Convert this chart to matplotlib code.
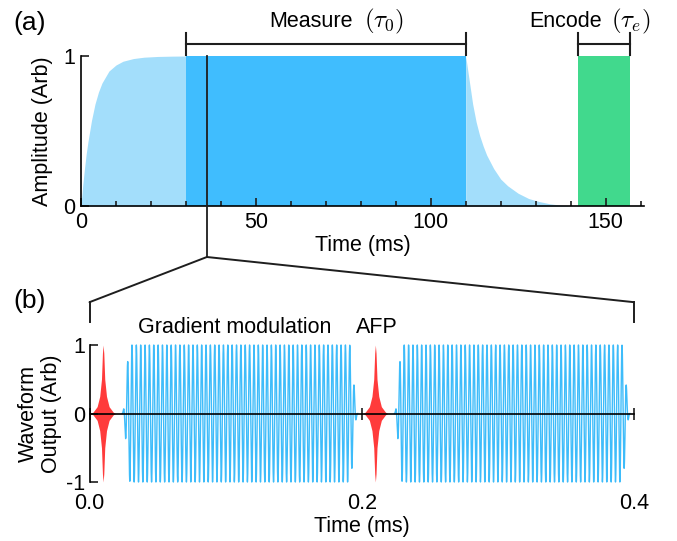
import numpy as num
import matplotlib
matplotlib.use('Agg')
import matplotlib.pyplot as plt
from matplotlib.ticker import MultipleLocator
from matplotlib.patches import ConnectionPatch

# ---- panel (a): sequence amplitude envelope
rise_t = [0, 0.5, 1, 1.5, 2, 3, 4, 5, 6, 7, 8, 10, 12, 15, 18, 22, 26, 30]
rise_a = [0, 0.14, 0.25, 0.35, 0.43, 0.57, 0.68, 0.76, 0.82, 0.86, 0.90,
          0.94, 0.965, 0.983, 0.992, 0.997, 0.999, 1.0]
decay_t = [110, 111, 112, 113, 114, 115, 116, 118, 120, 122, 125, 128,
           131, 134, 137, 140]
decay_a = [1.0, 0.84, 0.68, 0.56, 0.47, 0.40, 0.34, 0.25, 0.18, 0.135,
           0.085, 0.05, 0.03, 0.015, 0.006, 0.0]
measure_span = [30, 110]
encode_span = [142, 157]
zoom_time = 36
top_xticks = [0, 50, 100, 150]

# ---- panel (b): waveform output
afp_centers = [0.01, 0.21]
afp_offsets = [0, 0.0005, 0.0012, 0.0025, 0.0044, 0.0074, 0.009]
afp_env = [1.0, 0.88, 0.5, 0.25, 0.1, 0.02, 0.0]
grad_segments = [(0.024, 0.197), (0.224, 0.397)]
grad_period = 0.0032
grad_ramp = 0.006
bot_xticks = [0.0, 0.2, 0.4]
bot_xlabels = ['0.0', '0.2', '0.4']
bot_yticks = [-1, 0, 1]

light_blue = '#A3DEFB'
dark_blue = '#40BDFE'
green = '#41D98D'
red = '#FF3B3B'
wave_blue = '#3EBCFA'
ink = '#1E1E1E'

plt.rcParams['font.family'] = ['Liberation Sans', 'DejaVu Sans']
plt.rcParams['mathtext.fontset'] = 'cm'
plt.rcParams['axes.unicode_minus'] = False
plt.rcParams['axes.linewidth'] = 1.2

W, H = 677.0, 541.0
fig = plt.figure(figsize=(W / 100, H / 100), dpi=100)

# pixel geometry of the two axes
ax1 = fig.add_axes([81 / W, (H - 206) / H, (644 - 81) / W, 150 / H])
ax2 = fig.add_axes([89.5 / W, (H - 482) / H, (634 - 89.5) / W, 137 / H])

# ---------------- panel (a)
ax1.fill_between(rise_t, 0, rise_a, color=light_blue, lw=0)
ax1.fill_between(measure_span, 0, [1, 1], color=dark_blue, lw=0)
ax1.fill_between(decay_t, 0, decay_a, color=light_blue, lw=0)
ax1.fill_between(encode_span, 0, [1, 1], color=green, lw=0)
ax1.plot([zoom_time, zoom_time], [1, -0.34], color=ink, lw=1.3,
         clip_on=False, zorder=5)

for span in (measure_span, encode_span):
    ax1.plot(span, [1.08, 1.08], color=ink, lw=1.5, clip_on=False)
    for xe in span:
        ax1.plot([xe, xe], [1.007, 1.153], color=ink, lw=1.5, clip_on=False)

ax1.text(77.8, 1.193, 'Measure', ha='right', va='baseline', fontsize=15.5)
ax1.text(81.0, 1.193, r'$(\tau_0)$', ha='left', va='baseline', fontsize=18)
ax1.text(148.9, 1.193, 'Encode', ha='right', va='baseline', fontsize=15.5)
ax1.text(151.5, 1.193, r'$(\tau_e)$', ha='left', va='baseline', fontsize=18)

ax1.set_xlim(0, 161)
ax1.set_ylim(0, 1)
ax1.set_xticks(top_xticks)
ax1.xaxis.set_minor_locator(MultipleLocator(10))
ax1.set_yticks([0, 1])
ax1.tick_params(axis='both', which='major', direction='in', length=6,
                width=1.2, labelsize=15.5, color=ink)
ax1.tick_params(axis='x', which='minor', direction='in', length=3.5,
                width=1.2, color=ink)
ax1.tick_params(axis='x', pad=4)
ax1.tick_params(axis='y', pad=4)
for s in ('top', 'right'):
    ax1.spines[s].set_visible(False)
ax1.set_xlabel('Time (ms)', fontsize=15.5)
ax1.xaxis.set_label_coords(0.5, -0.19)
ax1.set_ylabel('Amplitude (Arb)', fontsize=15.5)
ax1.yaxis.set_label_coords(-0.049, 0.5)

# ---------------- panel (b)
for c in afp_centers:
    xs = [c - o for o in afp_offsets[::-1]] + [c + o for o in afp_offsets[1:]]
    env = afp_env[::-1] + afp_env[1:]
    ax2.fill_between(xs, [-e for e in env], env, color=red, lw=0, zorder=1)

for t0, t1 in grad_segments:
    t = num.linspace(t0, t1, 6000)
    env = num.ones_like(t)
    up = (t - t0) < grad_ramp
    env[up] = num.sin(0.5 * num.pi * (t[up] - t0) / grad_ramp) ** 2
    dn = (t1 - t) < grad_ramp
    env[dn] = num.sin(0.5 * num.pi * (t1 - t[dn]) / grad_ramp) ** 2
    ax2.plot(t, env * num.sin(2 * num.pi * (t - t0) / grad_period),
             color=wave_blue, lw=1.0, clip_on=False, zorder=2)

ax2.set_xlim(0, 0.4)
ax2.set_ylim(-1, 1)
ax2.spines['bottom'].set_position(('data', 0))
ax2.spines['bottom'].set_zorder(4)
for s in ('top', 'right'):
    ax2.spines[s].set_visible(False)
ax2.set_xticks(bot_xticks)
ax2.set_xticklabels(bot_xlabels)
ax2.set_yticks(bot_yticks)
ax2.tick_params(axis='x', direction='inout', length=9, width=1.2,
                pad=53, labelsize=15.5, color=ink)
ax2.tick_params(axis='y', direction='in', length=6, width=1.2, pad=3,
                labelsize=15.5, color=ink)
ax2.set_xlabel('Time (ms)', fontsize=15.5)
ax2.xaxis.set_label_coords(0.5, -0.25)
ax2.set_ylabel('Waveform\nOutput (Arb)', fontsize=15.5, linespacing=1.1)
ax2.yaxis.set_label_coords(-0.0505, 0.5)

ax2.text(0.107, 1.18, 'Gradient modulation', ha='center', va='baseline',
         fontsize=15.5)
ax2.text(0.211, 1.18, 'AFP', ha='center', va='baseline', fontsize=15.5)

# zoom connector from panel (a) into panel (b)
for xb in (0.0, 0.4):
    con = ConnectionPatch(xyA=(zoom_time, -0.34), coordsA=ax1.transData,
                          xyB=(xb, 1.625), coordsB=ax2.transData,
                          color=ink, lw=1.4)
    fig.add_artist(con)
    ax2.plot([xb, xb], [1.625, 1.333], color=ink, lw=1.4, clip_on=False)

fig.text(13 / W, 1 - 30 / H, '(a)', fontsize=19)
fig.text(13 / W, 1 - 308 / H, '(b)', fontsize=19)

fig.savefig('out.png', dpi=100)
